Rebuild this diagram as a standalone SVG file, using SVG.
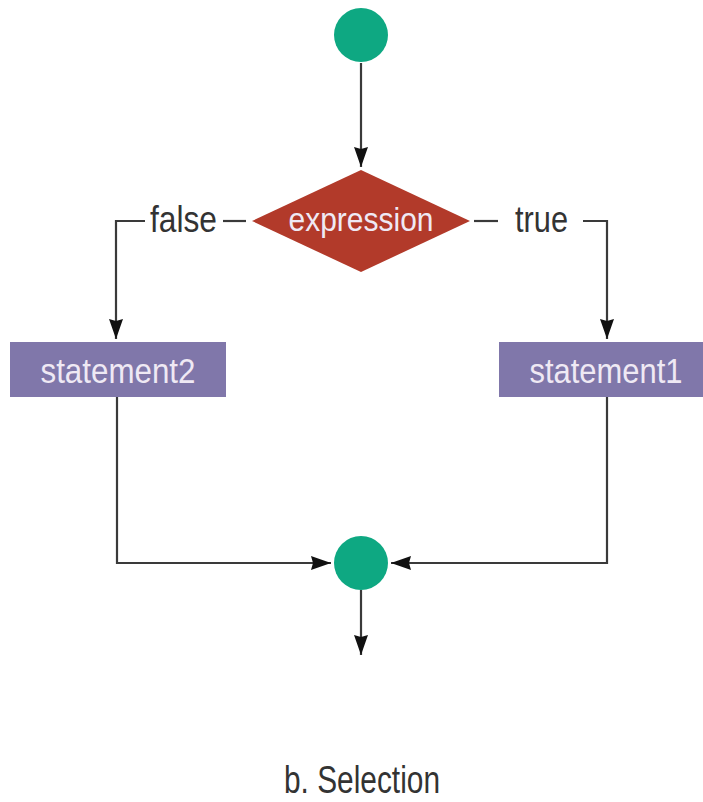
<svg xmlns="http://www.w3.org/2000/svg" width="703" height="802" viewBox="0 0 703 802">
<defs>
<style>
.conn{fill:none;stroke:#3a3a3a;stroke-width:2.2}
.lbl{font-family:"Liberation Sans","DejaVu Sans",sans-serif;fill:#333333}
.wt{font-family:"Liberation Sans","DejaVu Sans",sans-serif;fill:#efe9f4;text-anchor:middle}
.dot{fill:#0ea882}
.box{fill:#8077aa}
</style>
<marker id="arr" viewBox="0 0 20 14" refX="20" refY="7" markerWidth="20" markerHeight="14" markerUnits="userSpaceOnUse" orient="auto">
<path d="M0,0 L20,7 L0,14 L2,7 Z" fill="#111111"/>
</marker>
</defs>
<rect width="703" height="802" fill="#ffffff"/>
<g id="connectors">
<line class="conn" x1="361" y1="63" x2="361" y2="167" marker-end="url(#arr)"/>
<polyline class="conn" points="145,221 116,221 116,339" marker-end="url(#arr)"/>
<line class="conn" x1="223" y1="221" x2="246" y2="221"/>
<line class="conn" x1="474" y1="221" x2="498" y2="221"/>
<polyline class="conn" points="583,221 607,221 607,339" marker-end="url(#arr)"/>
<polyline class="conn" points="117,397 117,563 331,563" marker-end="url(#arr)"/>
<polyline class="conn" points="607,397 607,563 391,563" marker-end="url(#arr)"/>
<line class="conn" x1="361" y1="590" x2="361" y2="655" marker-end="url(#arr)"/>
</g>
<g id="start"><circle class="dot" cx="361" cy="35" r="27"/></g>
<g id="expression">
<polygon points="361,170 470,221 361,272 252,221" fill="#b23a2a"/>
<text class="wt" x="361" y="231" font-size="33" textLength="145" lengthAdjust="spacingAndGlyphs">expression</text>
</g>
<g id="label-false"><text class="lbl" x="150" y="232" font-size="37" textLength="67" lengthAdjust="spacingAndGlyphs">false</text></g>
<g id="label-true"><text class="lbl" x="515" y="232" font-size="37" textLength="53" lengthAdjust="spacingAndGlyphs">true</text></g>
<g id="statement2">
<rect class="box" x="10" y="342" width="216" height="55"/>
<text class="wt" x="118" y="383" font-size="35" textLength="155" lengthAdjust="spacingAndGlyphs">statement2</text>
</g>
<g id="statement1">
<rect class="box" x="499" y="342" width="204" height="55"/>
<text class="wt" x="606" y="383" font-size="35" textLength="153" lengthAdjust="spacingAndGlyphs">statement1</text>
</g>
<g id="end"><circle class="dot" cx="361" cy="563" r="27"/></g>
<g id="caption"><text class="lbl" x="284" y="793" font-size="38" textLength="156" lengthAdjust="spacingAndGlyphs">b. Selection</text></g>
</svg>
